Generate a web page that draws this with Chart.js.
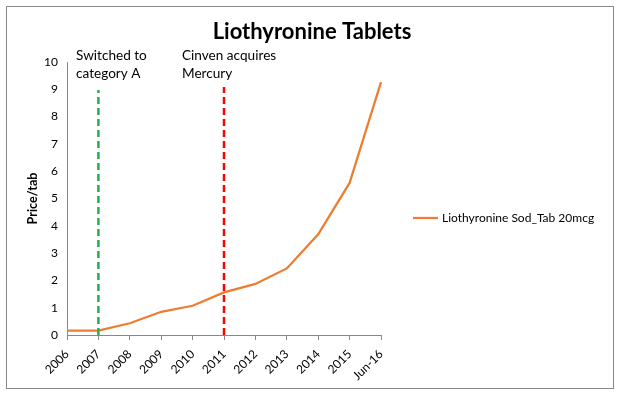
<!DOCTYPE html>
<html><head><meta charset="utf-8">
<script src="https://cdn.jsdelivr.net/npm/chart.js@4"></script>
<style>html,body{margin:0;padding:0;background:#fff}#wrap{width:619px;height:394px;position:relative}</style>
</head><body><div id="wrap"><canvas id="c" width="619" height="394"></canvas></div>
<script>
const categories = ['2006','2007','2008','2009','2010','2011','2012','2013','2014','2015','Jun-16'];
const priceValues = [0.16, 0.16, 0.43, 0.85, 1.07, 1.56, 1.87, 2.44, 3.69, 5.57, 9.26];
const seriesLabel = 'Liothyronine Sod_Tab 20mcg';
const yTicks = [0,1,2,3,4,5,6,7,8,9,10];
const eventCategories = ['2007','2011'];
const eventTexts = [['Switched to','category A'],['Cinven acquires','Mercury']];
const eventColors = ['#22b14c','#ff0000'];
const chartTitle = 'Liothyronine Tablets';
const yTitle = 'Price/tab';
const FONT = 'Lato, "Open Sans", sans-serif';

const overlay = {
  id:'overlay',
  beforeDraw(chart){
    const ctx = chart.ctx;
    ctx.save();
    ctx.fillStyle='#fff'; ctx.fillRect(0,0,chart.width,chart.height);
    ctx.strokeStyle='#888'; ctx.lineWidth=1;
    ctx.strokeRect(6.5,6.5,607,382);
    ctx.restore();
  },
  afterDatasetsDraw(chart){
    const ctx = chart.ctx, xs = chart.scales.x, ys = chart.scales.y;
    ctx.save();
    eventCategories.forEach((cat,i)=>{
      const x = xs.getPixelForValue(categories.indexOf(cat));
      ctx.strokeStyle = eventColors[i]; ctx.lineWidth = 2.5; ctx.setLineDash([7,4]);
      ctx.beginPath(); ctx.moveTo(x, ys.getPixelForValue(0)); ctx.lineTo(x, i===0?90:87); ctx.stroke();
    });
    ctx.setLineDash([]);
    ctx.fillStyle='#000'; ctx.font = '13.6px '+FONT; ctx.textBaseline='alphabetic'; ctx.textAlign='left';
    const textX = [76,182];
    eventTexts.forEach((lines,i)=>{
      lines.forEach((t,j)=>ctx.fillText(t, textX[i], 60 + j*18));
    });
    ctx.font = 'bold 22px '+FONT; ctx.textAlign='center';
    ctx.fillText(chartTitle, 312, 39);
    const ly = 218;
    ctx.strokeStyle = '#ed7d31'; ctx.lineWidth = 2.25;
    ctx.beginPath(); ctx.moveTo(413, ly); ctx.lineTo(438, ly); ctx.stroke();
    ctx.font = '12px '+FONT; ctx.textAlign='left'; ctx.textBaseline='middle';
    ctx.fillText(chart.data.datasets[0].label, 442, ly);
    ctx.restore();
  }
};

new Chart(document.getElementById('c'), {
  type:'line',
  data:{ labels: categories, datasets:[{ label: seriesLabel, data: priceValues, borderColor:'#ed7d31', borderWidth:2.25, pointRadius:0, tension:0, fill:false }]},
  options:{
    responsive:false, animation:false, devicePixelRatio:1,
    layout:{ padding:{ left:0, right:238, top:62, bottom:0 } },
    plugins:{ legend:{display:false}, title:{display:false}, tooltip:{enabled:false} },
    scales:{
      x:{ type:'category', offset:false,
        grid:{ display:true, drawOnChartArea:false, drawTicks:true, tickLength:5, color:'#888' },
        border:{ display:true, color:'#888', width:1 },
        ticks:{ minRotation:45, maxRotation:45, autoSkip:false, color:'#000', font:{ family:FONT, size:12 }, padding:7 },
        afterFit(s){ s.height = 59; }
      },
      y:{ min:0, max:10, afterBuildTicks(s){ s.ticks = yTicks.map(v=>({value:v})); },
        grid:{ display:false, drawTicks:false },
        border:{ display:true, color:'#888', width:1 },
        ticks:{ color:'#000', font:{ family:FONT, size:12 }, padding:9 },
        title:{ display:true, text:yTitle, color:'#000', font:{ family:FONT, size:12.5, weight:'bold' }, padding:{top:25,bottom:0} },
        afterFit(s){ s.width = 67; }
      }
    }
  },
  plugins:[overlay]
});
</script></body></html>
